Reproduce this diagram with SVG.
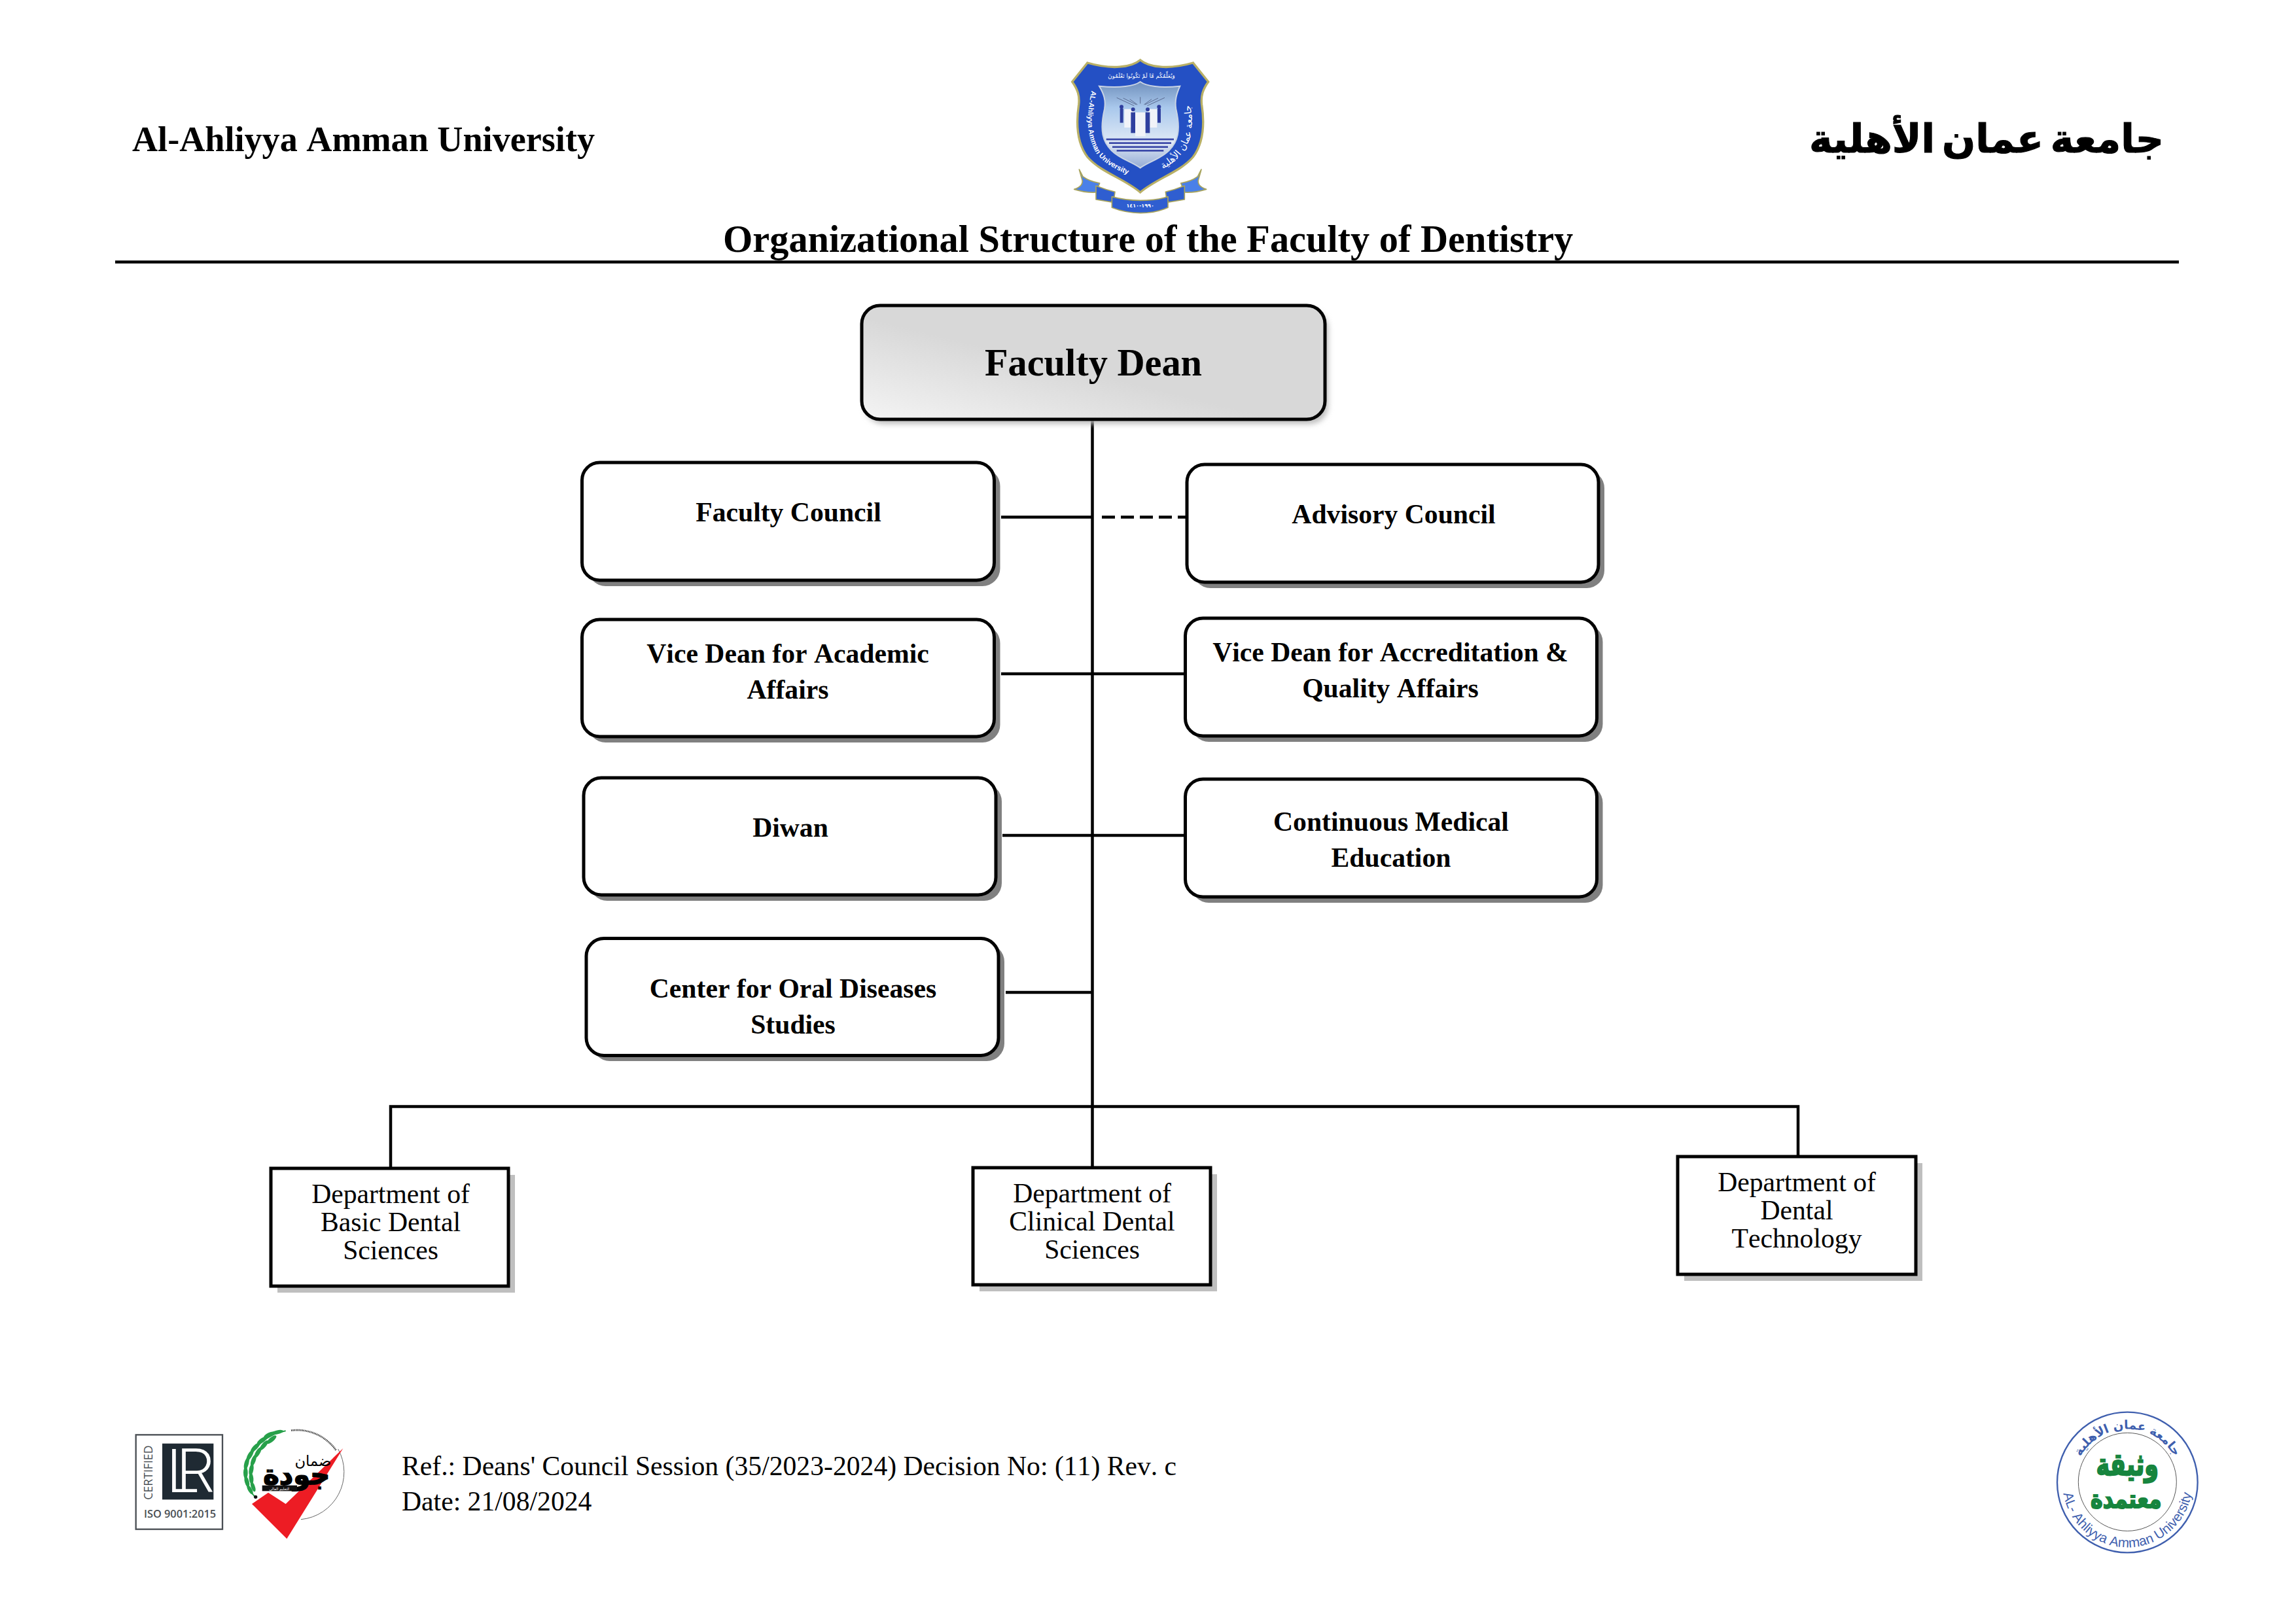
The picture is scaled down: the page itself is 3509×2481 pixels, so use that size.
<svg xmlns="http://www.w3.org/2000/svg" width="3509" height="2481" viewBox="0 0 3509 2481">
<defs>
<style>
text{font-family:"Liberation Serif","Times New Roman",serif;fill:#000;font-kerning:none}
.b{font-weight:bold;text-anchor:middle;font-size:41.67px}
.r{text-anchor:middle;font-size:41.67px}
.h{font-weight:bold;font-size:58.33px}
.box{fill:#fff;stroke:#000;stroke-width:5}
.sh{fill:#808080}
.sh2{fill:#bfbfbf}
.ln{fill:none;stroke:#000;stroke-width:4.5}
</style>
<linearGradient id="dean" x1="0" y1="1" x2="1" y2="0"><stop offset="0" stop-color="#f4f4f4"/><stop offset=".45" stop-color="#d8d8d8"/><stop offset="1" stop-color="#d8d8d8"/></linearGradient>
<linearGradient id="sky" x1="0" y1="0" x2="0" y2="1"><stop offset="0" stop-color="#6f8fbc"/><stop offset=".3" stop-color="#a9c8ec"/><stop offset=".7" stop-color="#dfe9f6"/><stop offset="1" stop-color="#93aad4"/></linearGradient>
<filter id="blur" x="-10%" y="-10%" width="120%" height="120%"><feGaussianBlur stdDeviation="4"/></filter>
<path id="crL" d="M325 235 C300 350 300 440 345 520 C390 580 460 610 530 635"/>
<path id="crR" d="M590 622 C680 590 750 540 780 440 C795 370 775 300 770 235"/>
<path id="crT" d="M312 178 L795 178"/>
<path id="stT" d="M149 378 A245 245 0 0 1 639 378"/>
<path id="stB" d="M96 378 A298 298 0 0 0 692 378"/>
</defs>
<rect width="3509" height="2481" fill="#fff"/>

<g id="header">
<text x="202" y="231" font-weight="bold" font-size="54.17">Al-Ahliyya Amman University</text>
<text x="3307" y="233" font-size="60" font-weight="bold" text-anchor="start" direction="rtl" word-spacing="-10" stroke="#000" stroke-width="1.2" style="font-family:'DejaVu Sans',sans-serif">جامعة عمان الأهلية</text>
<text class="h" x="1105" y="385">Organizational Structure of the Faculty of Dentistry</text>
<line x1="176" y1="400.500" x2="3330" y2="400.500" stroke="#000" stroke-width="4.5"/>
</g>

<g id="crest" transform="translate(1560 60) scale(.33333)">
<path d="M548 95C590 130 680 140 790 108L860 195C835 230 825 260 830 300C845 400 835 480 790 540C730 610 620 640 548 702C476 640 366 610 306 540C261 480 251 400 266 300C271 260 261 230 236 195L306 108C416 140 506 130 548 95Z" fill="#2450c4" stroke="#b9b066" stroke-width="10"/>
<path d="M548 195C575 215 640 225 730 215C715 250 705 280 712 320C735 420 720 470 680 510C640 550 590 560 548 590C506 560 456 550 416 510C376 470 361 420 384 320C391 280 381 250 360 215C456 225 521 215 548 195Z" fill="url(#sky)" stroke="#c9d4e4" stroke-width="6"/>
<g stroke="#5a6a90" stroke-width="3" fill="none"><path d="M440 268L520 305M470 270L530 300M500 275L535 300M548 265V295M660 268L580 305M630 270L570 300M600 275L565 300"/></g>
<g fill="#f1f3f8"><path d="M475 320H520V405H475ZM580 320H625V405H580ZM525 335H572V445H525Z"/></g>
<g fill="#2f3f9e"><rect x="455" y="318" width="15" height="65"/><rect x="505" y="335" width="20" height="95"/><rect x="572" y="335" width="20" height="95"/><rect x="627" y="318" width="15" height="65"/><circle cx="462" cy="310" r="9"/><circle cx="515" cy="322" r="9"/><circle cx="582" cy="322" r="9"/><circle cx="634" cy="310" r="9"/></g>
<g fill="#3a48a8"><rect x="392" y="455" width="310" height="8"/><rect x="405" y="472" width="285" height="8"/><rect x="420" y="490" width="255" height="8"/><rect x="440" y="507" width="215" height="8"/></g>
<text font-size="26" style="fill:#fff;font-family:'DejaVu Sans',sans-serif"><textPath href="#crT" startOffset="50%" text-anchor="middle">وَيُعَلِّمُكُم مَّا لَمْ تَكُونُوا تَعْلَمُونَ</textPath></text>
<text font-size="33" style="fill:#fff;font-family:'Liberation Sans',sans-serif;font-weight:bold"><textPath href="#crL">AL-Ahliyya Amman University</textPath></text>
<text font-size="44" style="fill:#fff;font-family:'DejaVu Sans',sans-serif"><textPath href="#crR" startOffset="50%" text-anchor="middle">جامعة عمان الأهلية</textPath></text>
<g stroke="#a8a45e" stroke-width="5" stroke-linejoin="round">
<path d="M268 597L285 630Q315 652 362 660L345 702Q300 705 245 688Q292 672 280 640Z" fill="#4a80e8"/>
<path d="M828 597L811 630Q781 652 734 660L751 702Q796 705 851 688Q804 672 816 640Z" fill="#4a80e8"/>
<path d="M345 672Q390 690 432 700L425 748L345 735Z" fill="#2f5ed0"/>
<path d="M751 672Q706 690 664 700L671 748L751 735Z" fill="#2f5ed0"/>
<path d="M418 722C500 745 600 745 675 722L675 772C600 805 500 805 418 772Z" fill="#2f5ed0"/>
</g>
<text x="548" y="772" text-anchor="middle" font-size="24" style="fill:#fff;font-family:'DejaVu Sans',sans-serif;font-weight:bold">١٩٩٠-١٤١٠</text>
</g>

<g id="connectors">
<path class="ln" d="M1669.500 641V1691.500M597 1785V1691.500H2748V1767M1669.500 1691.500V1784"/>
<path class="ln" d="M1530 790.500H1669M1530 1030H1811M1532 1277H1811M1537 1517H1669"/>
<path class="ln" stroke-dasharray="20 9" d="M1684 790.500H1814"/>
</g>

<g id="faculty-dean">
<rect x="1322" y="474" width="708" height="174" rx="28" fill="#bbb" filter="url(#blur)"/>
<rect x="1317" y="467" width="708" height="174" rx="28" fill="url(#dean)" stroke="#000" stroke-width="5"/>
<text x="1671" y="574" class="h" text-anchor="middle">Faculty Dean</text>
</g>
<g id="faculty-council"><rect class="sh" x="898.500" y="716" width="630" height="180" rx="27"/><rect class="box" x="889.500" y="707" width="630" height="180" rx="27"/><text class="b" x="1205" y="797">Faculty Council</text></g>
<g id="advisory-council"><rect class="sh" x="1823" y="719" width="629" height="180" rx="27"/><rect class="box" x="1814" y="710" width="629" height="180" rx="27"/><text class="b" x="2130" y="800">Advisory Council</text></g>
<g id="vice-dean-academic"><rect class="sh" x="898.500" y="956" width="630" height="179" rx="27"/><rect class="box" x="889.500" y="947" width="630" height="179" rx="27"/><text class="b" x="1204" y="1013">Vice Dean for Academic</text><text class="b" x="1204" y="1068">Affairs</text></g>
<g id="vice-dean-accreditation"><rect class="sh" x="1820.500" y="954" width="629" height="180" rx="27"/><rect class="box" x="1811.500" y="945" width="629" height="180" rx="27"/><text class="b" x="2125" y="1011">Vice Dean for Accreditation &amp;</text><text class="b" x="2125" y="1066">Quality Affairs</text></g>
<g id="diwan"><rect class="sh" x="901" y="1198" width="630" height="179" rx="27"/><rect class="box" x="892" y="1189" width="630" height="179" rx="27"/><text class="b" x="1208" y="1279">Diwan</text></g>
<g id="continuous-medical"><rect class="sh" x="1820.500" y="1200" width="629" height="180" rx="27"/><rect class="box" x="1811.500" y="1191" width="629" height="180" rx="27"/><text class="b" x="2126" y="1270">Continuous Medical</text><text class="b" x="2126" y="1325">Education</text></g>
<g id="center-oral"><rect class="sh" x="905" y="1443" width="630" height="179" rx="27"/><rect class="box" x="896" y="1434.500" width="630" height="179" rx="27"/><text class="b" x="1212" y="1525">Center for Oral Diseases</text><text class="b" x="1212" y="1580">Studies</text></g>

<g id="dept-basic"><rect class="sh2" x="424" y="1796" width="363" height="180"/><rect class="box" x="414" y="1786" width="363" height="180"/><text class="r" x="597" y="1839">Department of</text><text class="r" x="597" y="1882">Basic Dental</text><text class="r" x="597" y="1925">Sciences</text></g>
<g id="dept-clinical"><rect class="sh2" x="1497" y="1795" width="363" height="179"/><rect class="box" x="1487" y="1785" width="363" height="179"/><text class="r" x="1669" y="1838">Department of</text><text class="r" x="1669" y="1881">Clinical Dental</text><text class="r" x="1669" y="1924">Sciences</text></g>
<g id="dept-tech"><rect class="sh2" x="2574" y="1778" width="364" height="180"/><rect class="box" x="2564" y="1768" width="364" height="180"/><text class="r" x="2746" y="1821">Department of</text><text class="r" x="2746" y="1864">Dental</text><text class="r" x="2746" y="1907">Technology</text></g>

<g id="footer">
<text x="614" y="2255" font-size="41.67">Ref.: Deans' Council Session (35/2023-2024) Decision No: (11) Rev. c</text>
<text x="614" y="2309" font-size="41.67">Date: 21/08/2024</text>
</g>

<g id="lr-logo" transform="translate(170 2150) scale(.33333)">
<rect x="113" y="130" width="397" height="433" fill="#fff" stroke="#4a4f54" stroke-width="7"/>
<rect x="234" y="170" width="235" height="257" fill="#1f2a33"/>
<text x="254" y="392" font-size="277" letter-spacing="-100" style="fill:#fff;font-family:Roboto,sans-serif;font-weight:300">LR</text>
<text transform="translate(188 428) rotate(-90)" font-size="53" style="fill:#4a4f54;font-family:'Open Sans',sans-serif">CERTIFIED</text>
<text x="150" y="510" font-size="49" style="fill:#4a4f54;font-family:'Open Sans',sans-serif;font-weight:600">ISO 9001:2015</text>
</g>

<g id="jawda-logo" transform="translate(170 2150) scale(.33333)">
<path d="M1040 195A218 218 0 0 1 870 518" fill="none" stroke="#666" stroke-width="3"/>
<path d="M825 110A218 218 0 0 1 1030 200" fill="none" stroke="#333" stroke-width="8" stroke-dasharray="4 3"/>
<path d="M800 112C720 125 640 190 622 270C605 330 625 380 660 415" fill="none" stroke="#27a04a" stroke-width="6"/>
<g fill="#27a04a"><ellipse cx="762" cy="118" rx="28" ry="9" transform="rotate(-12 762 118)"/><ellipse cx="725" cy="130" rx="28" ry="10" transform="rotate(-25 725 130)"/><ellipse cx="735" cy="152" rx="28" ry="10" transform="rotate(-40 735 152)"/><ellipse cx="692" cy="155" rx="28" ry="10" transform="rotate(-35 692 155)"/><ellipse cx="700" cy="178" rx="28" ry="10" transform="rotate(-50 700 178)"/><ellipse cx="660" cy="188" rx="28" ry="10" transform="rotate(-45 660 188)"/><ellipse cx="672" cy="212" rx="28" ry="10" transform="rotate(-60 672 212)"/><ellipse cx="636" cy="224" rx="28" ry="10" transform="rotate(-60 636 224)"/><ellipse cx="652" cy="248" rx="28" ry="10" transform="rotate(-70 652 248)"/><ellipse cx="620" cy="262" rx="28" ry="10" transform="rotate(-75 620 262)"/><ellipse cx="642" cy="290" rx="28" ry="10" transform="rotate(-80 642 290)"/><ellipse cx="616" cy="304" rx="28" ry="10" transform="rotate(-90 616 304)"/><ellipse cx="642" cy="330" rx="26" ry="10" transform="rotate(85 642 330)"/><ellipse cx="622" cy="345" rx="26" ry="10" transform="rotate(75 622 345)"/><ellipse cx="650" cy="368" rx="24" ry="9" transform="rotate(70 650 368)"/><ellipse cx="636" cy="382" rx="24" ry="9" transform="rotate(60 636 382)"/></g>
<circle cx="662" cy="415" r="8" fill="#111"/>
<path d="M645 447L720 395 800 447 1063 192 805 607Z" fill="#ed1c24"/>
<text x="925" y="272" font-size="68" text-anchor="middle" style="font-family:'DejaVu Sans',sans-serif">ضمان</text>
<text x="850" y="358" font-size="125" font-weight="bold" text-anchor="middle" stroke="#000" stroke-width="5" style="font-family:'DejaVu Sans',sans-serif">جودة</text>
<rect x="692" y="362" width="160" height="26" fill="#111"/>
<text x="770" y="383" font-size="17" text-anchor="middle" style="fill:#fff;font-family:'DejaVu Sans',sans-serif">التعليم العالي</text>
</g>

<g id="stamp" transform="translate(3120 2140) scale(.33333)">
<circle cx="394" cy="378" r="322" fill="#fff" stroke="#3f5fae" stroke-width="7"/>
<circle cx="394" cy="376" r="225" fill="#fff" stroke="#555" stroke-width="3"/>
<text font-size="56" font-weight="bold" style="fill:#3f5fae;font-family:'DejaVu Sans',sans-serif"><textPath href="#stT" startOffset="50%" text-anchor="middle">جامعة عمان الأهلية</textPath></text>
<text font-size="62" style="fill:#3f5fae;font-family:'Liberation Sans',sans-serif"><textPath href="#stB" startOffset="50%" text-anchor="middle">AL- Ahliyya Amman University</textPath></text>
<text transform="translate(394 345) scale(1 1.35)" font-size="105" font-weight="bold" text-anchor="middle" stroke="#17853e" stroke-width="5" style="fill:#17853e;font-family:'DejaVu Sans',sans-serif">وثيقة</text>
<text transform="translate(388 495) scale(1 1.25)" font-size="95" font-weight="bold" text-anchor="middle" stroke="#17853e" stroke-width="5" style="fill:#17853e;font-family:'DejaVu Sans',sans-serif">معتمدة</text>
</g>
</svg>
